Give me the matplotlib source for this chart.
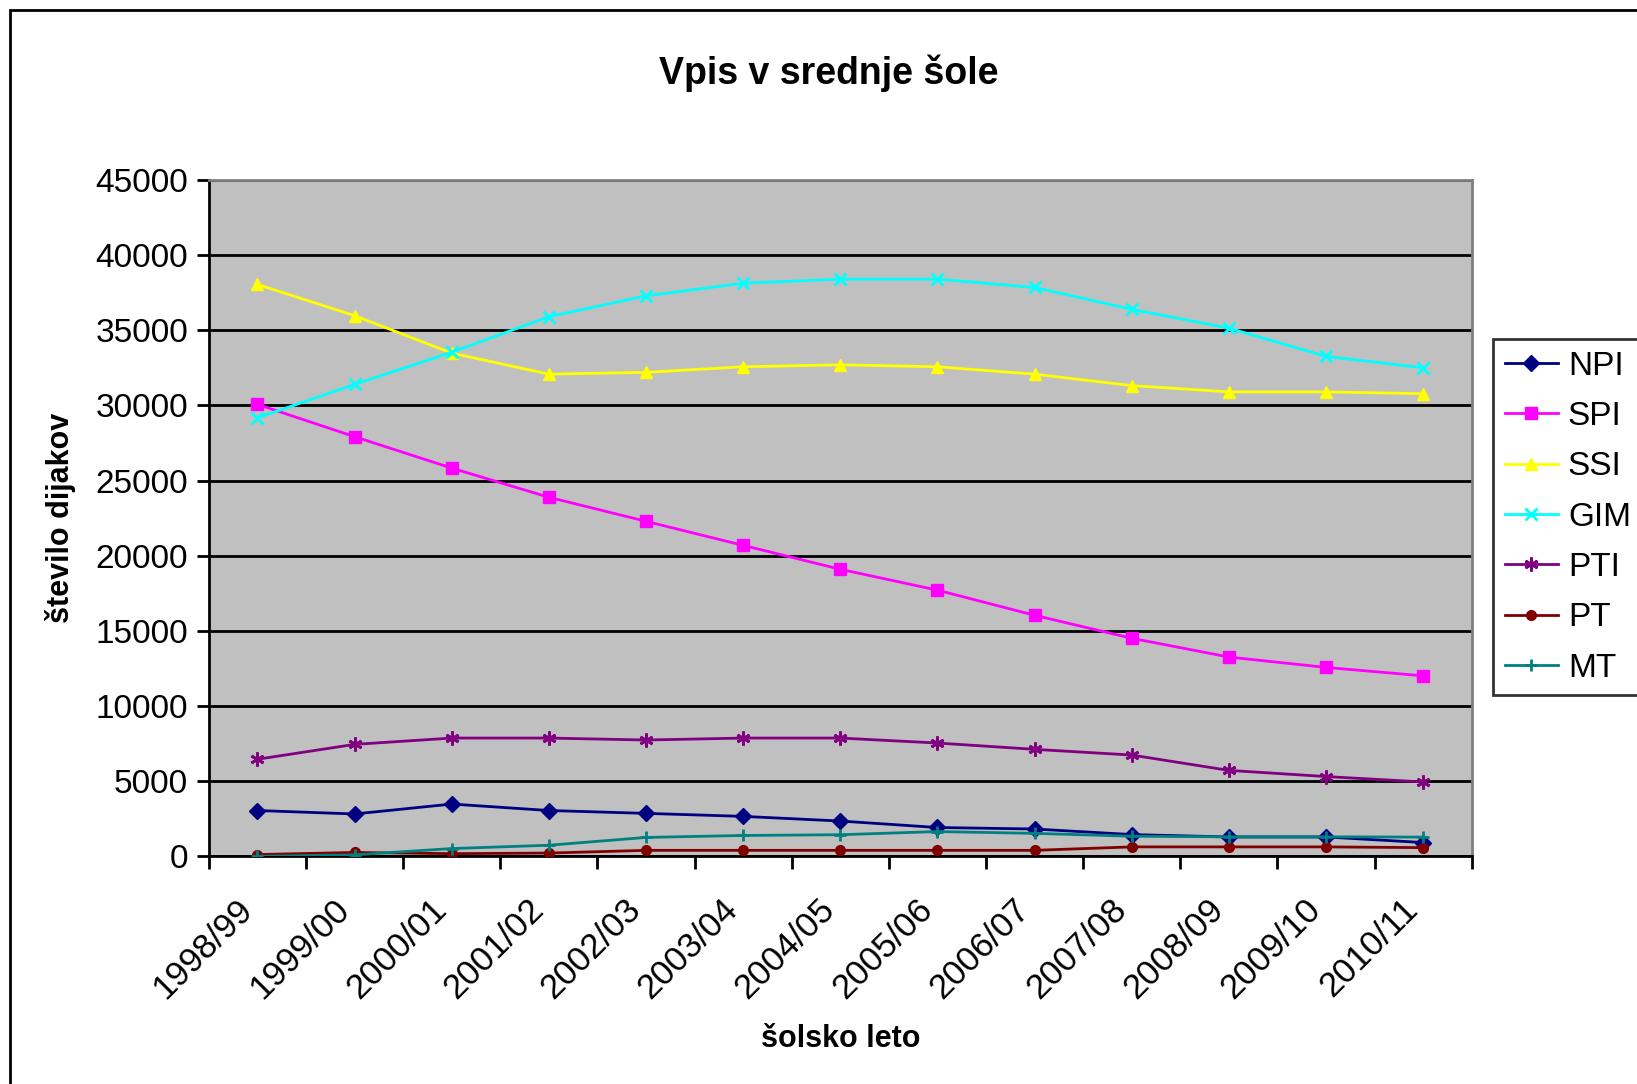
import matplotlib.pyplot as plt
from matplotlib.patches import Rectangle
from matplotlib.transforms import ScaledTranslation

plt.rcParams["font.family"] = ["Liberation Sans", "DejaVu Sans"]

# Data
years = ["1998/99", "1999/00", "2000/01", "2001/02", "2002/03", "2003/04", "2004/05",
         "2005/06", "2006/07", "2007/08", "2008/09", "2009/10", "2010/11"]
npi = [3050, 2820, 3480, 3050, 2860, 2660, 2350, 1920, 1820, 1450, 1290, 1290, 920]
spi = [30070, 27920, 25830, 23890, 22290, 20690, 19100, 17710, 16040, 14510, 13260, 12570, 12010]
ssi = [38050, 35970, 33480, 32080, 32200, 32570, 32700, 32570, 32080, 31320, 30900, 30900, 30780]
gim = [29170, 31400, 33540, 35900, 37290, 38130, 38400, 38400, 37850, 36390, 35140, 33260, 32500]
pti = [6460, 7450, 7870, 7870, 7740, 7870, 7870, 7540, 7120, 6740, 5720, 5310, 4950]
pt = [120, 260, 180, 220, 400, 400, 400, 400, 400, 630, 630, 630, 580]
mt = [0, 100, 520, 740, 1260, 1390, 1440, 1650, 1530, 1340, 1300, 1300, 1280]

series = [
    ("NPI", npi, "#000080", "D", 8),
    ("SPI", spi, "#FF00FF", "s", 8),
    ("SSI", ssi, "#FFFF00", "^", 9),
    ("GIM", gim, "#00FFFF", "x", 8),
    ("PTI", pti, "#800080", (6, 2, 0), 10),
    ("PT", pt, "#800000", "o", 7),
    ("MT", mt, "#008080", "+", 9),
]

fig = plt.figure(figsize=(16.37, 10.84), dpi=100)
ax = fig.add_axes([0.1276, 0.210, 0.899 - 0.1276, 0.834 - 0.210])
ax.set_facecolor("#C0C0C0")

x = [i + 0.5 for i in range(len(years))]
handles = []
for name, vals, col, mk, ms in series:
    (h,) = ax.plot(x, vals, color=col, marker=mk, markersize=ms, lw=2,
                   markeredgewidth=2 if mk in ("x", "+", (6, 2, 0)) else 1,
                   markeredgecolor=col, label=name, zorder=3)
    handles.append(h)

# Axes
ax.set_xlim(0, len(years))
ax.set_ylim(0, 45000)
ax.set_yticks(range(0, 45001, 5000))
ax.yaxis.grid(True, color="black", lw=2)
ax.set_axisbelow(True)
ax.set_xticks(x)
ax.set_xticklabels(years, rotation=45, ha="right", rotation_mode="anchor")
ax.set_xticks(range(len(years) + 1), minor=True)
ax.tick_params(axis="x", which="major", length=0, pad=26, labelsize=25)
ax.tick_params(axis="x", which="minor", length=9, width=2, direction="out")
ax.tick_params(axis="y", length=9, width=2, direction="out", labelsize=24, pad=6)
shift = ScaledTranslation(-0.22, 0, fig.dpi_scale_trans)
for lab in ax.get_xticklabels():
    lab.set_transform(lab.get_transform() + shift)
for s in ("left", "bottom"):
    ax.spines[s].set_color("black")
    ax.spines[s].set_linewidth(2)
for s in ("top", "right"):
    ax.spines[s].set_color("#808080")
    ax.spines[s].set_linewidth(2)

ax.set_ylabel("število dijakov", fontsize=22, fontweight="bold", labelpad=14)
ax.set_xlabel("šolsko leto", fontsize=22, fontweight="bold", labelpad=14)
fig.text(0.506, 0.932, "Vpis v srednje šole", ha="center", va="center",
         fontsize=27, fontweight="bold")

leg = fig.legend(handles=handles, loc="center left", bbox_to_anchor=(0.912, 0.523),
                 fontsize=24, frameon=True, fancybox=False, edgecolor="black",
                 handlelength=1.6, labelspacing=0.58, handletextpad=0.3,
                 borderpad=0.35, borderaxespad=0)
leg.get_frame().set_linewidth(2)

# outer chart border (cropped on right/bottom)
fig.add_artist(Rectangle((0.0064, -0.1), 1.2, 0.1 + 0.9904, transform=fig.transFigure,
                         fill=False, edgecolor="black", lw=2))

fig.savefig("out.png", dpi=100)
